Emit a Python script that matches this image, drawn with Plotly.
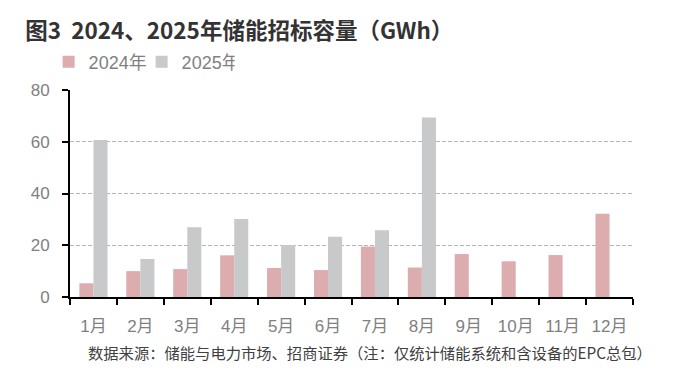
import plotly.graph_objects as go

months = ["1月", "2月", "3月", "4月", "5月", "6月", "7月", "8月", "9月", "10月", "11月", "12月"]
v2024 = [5.3, 10.0, 10.8, 16.1, 11.2, 10.4, 19.5, 11.4, 16.6, 13.8, 16.2, 32.2]
v2025 = [60.7, 14.7, 27.0, 30.1, 20.1, 23.3, 25.8, 69.4, None, None, None, None]
yticks = [0, 20, 40, 60, 80]

cjk = "Noto Sans CJK SC"
lat = "Liberation Sans, Noto Sans CJK SC"
fig = go.Figure()
fig.add_trace(go.Bar(x=months, y=v2024, name="2024年", marker=dict(color="#DDACAF", line=dict(width=0))))
fig.add_trace(go.Bar(x=months, y=v2025, name="2025年", marker=dict(color="#C8C9CB", line=dict(width=0))))

fig.update_layout(
    width=681, height=376,
    margin=dict(l=70, r=48, t=90, b=79, autoexpand=False),
    paper_bgcolor="white", plot_bgcolor="white",
    barmode="group", bargap=0.4, bargroupgap=0,
    font=dict(family=lat, color="#808080"),
    showlegend=True,
    legend=dict(orientation="h", xref="container", yref="container", x=0.0714, y=0.835,
                xanchor="left", yanchor="middle",
                font=dict(size=18, color="#808080", family=lat),
                entrywidth=48, entrywidthmode="pixels",
                traceorder="normal"),
    title=dict(text="<b>图3  2024、2025年储能招标容量（GWh）</b>", xref="container", x=0.037,
               xanchor="left", yref="container", y=0.918, yanchor="middle",
               font=dict(size=22.5, color="#333333", family=cjk)),
)
fig.update_xaxes(
    type="category", showline=True, linecolor="black", linewidth=2,
    ticks="outside", tickson="boundaries", ticklen=6, tickwidth=2, tickcolor="black",
    tickfont=dict(size=17, color="#808080"), showgrid=False, ticklabelstandoff=13,
)
fig.update_yaxes(
    range=[0, 80], tickvals=yticks, showline=True, linecolor="black", linewidth=2,
    ticks="outside", ticklen=6, tickwidth=2, tickcolor="black",
    tickfont=dict(size=17, color="#808080"),
    showgrid=True, gridcolor="#B4B4B4", griddash="4px,2px", gridwidth=1,
    zeroline=False, ticklabelstandoff=9,
)
fig.add_annotation(text="数据来源：储能与电力市场、招商证券（注：仅统计储能系统和含设备的EPC总包）",
                   xref="paper", yref="paper", x=0.0285, y=-0.266, xanchor="left", yanchor="middle",
                   showarrow=False, font=dict(size=15.3, color="#404040", family=cjk))
fig.write_html("out.html", config={"displayModeBar": False},
               post_script="document.body.style.margin='0';")
